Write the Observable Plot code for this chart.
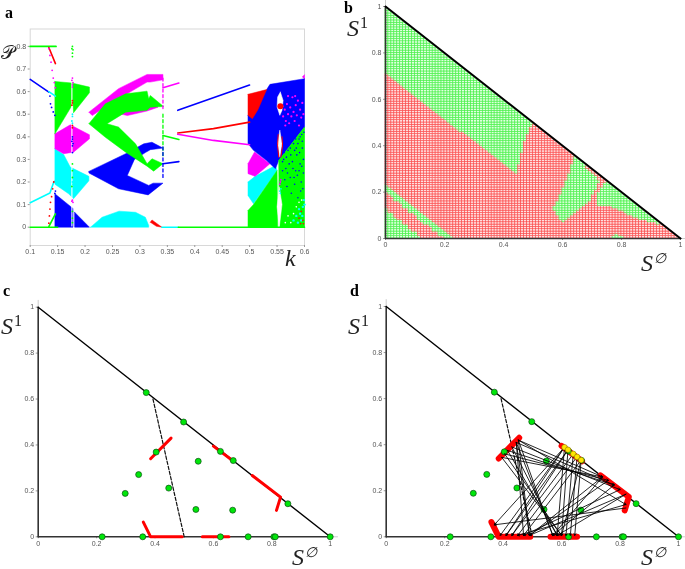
<!DOCTYPE html>
<html><head><meta charset="utf-8">
<script src="https://cdn.jsdelivr.net/npm/d3@7"></script>
<script src="https://cdn.jsdelivr.net/npm/@observablehq/plot@0.6"></script>
<style>
html,body{margin:0;padding:0;background:#fff;overflow:hidden}
#page{position:relative;width:685px;height:569px;overflow:hidden}
#page svg{position:absolute;background:transparent;filter:blur(.45px)}
#page svg.crisp{filter:blur(.2px)}
.lab{position:absolute;font-family:"Liberation Serif",serif;color:#222;line-height:1;white-space:nowrap;filter:blur(.3px)}
.pn{font-weight:bold;font-size:16px;color:#000}
.s{font-size:24px;font-style:italic}
.s sup{font-style:normal;font-size:16px;vertical-align:8px;line-height:0;margin-left:1px}
.s sup.e{font-style:italic;font-size:14px}
.s.p{font-size:19px;font-style:normal}
</style></head><body><div id="page"></div>
<script>
/* panel a: bifurcation bands as [k, P] outlines */
const greenBands=[
 [[.145,.645],[.176,.638],[.208,.62],[.208,.595],[.179,.506],[.178,.546],[.145,.413]],
 [[.207,.458],[.237,.546],[.274,.59],[.313,.602],[.316,.568],[.319,.583],[.343,.534],[.319,.531],[.313,.517],[.274,.509],[.24,.458],[.261,.443],[.292,.369],[.313,.281],[.322,.303],[.342,.281],[.325,.248],[.313,.27],[.274,.332],[.237,.398]],
 [[.497,.074],[.507,.1],[.55,.251],[.551,0],[.497,0]],
 [[.553,.295],[.6,.443],[.6,0],[.554,0]]];
const magentaBands=[
 [[.145,.413],[.173,.453],[.208,.409],[.208,.391],[.179,.332],[.161,.325],[.145,.347]],
 [[.207,.509],[.261,.613],[.313,.676],[.342,.676],[.342,.652],[.319,.642],[.313,.642],[.261,.568],[.213,.494]],
 [[.261,.503],[.277,.494],[.313,.514],[.333,.531],[.313,.56],[.27,.52]],
 [[.497,.281],[.509,.333],[.537,.281],[.51,.225],[.497,.237]],
 [[.6,.657],[.6,.675],[.596,.665]]];
const cyanBands=[
 [[.145,.347],[.161,.322],[.173,.266],[.207,.225],[.207,.205],[.179,.126],[.17,.148],[.145,.19]],
 [[.21,0],[.231,.044],[.262,.071],[.292,.066],[.31,.044],[.316,.008],[.316,0]],
 [[.497,.2],[.51,.225],[.547,.273],[.55,.251],[.507,.104],[.497,.14]]];
const blueBands=[
 [[.145,.148],[.178,.083],[.178,0],[.145,0]],
 [[.181,.066],[.208,0],[.181,0]],
 [[.207,.247],[.274,.325],[.307,.369],[.322,.376],[.342,.35],[.319,.343],[.31,.33],[.29,.3],[.277,.229],[.316,.185],[.324,.195],[.342,.195],[.315,.143],[.261,.17],[.207,.24]],
 [[.497,.495],[.531,.609],[.537,.632],[.6,.657],[.6,.443],[.553,.295],[.547,.259],[.531,.295],[.507,.34],[.497,.37]]];
const redBands=[
 [[.497,.588],[.531,.609],[.515,.52],[.505,.48],[.497,.495]],
 [[.319,.022],[.322,.032],[.34,0],[.33,.004]]];
const whiteHoles=[
 [[.556,.598],[.561,.561],[.559,.517],[.555,.495],[.55,.532],[.551,.576]],
 [[.555,.428],[.559,.37],[.555,.31],[.551,.37]],
 [[.554,.177],[.559,.1],[.554,0],[.55,.09]]];
const blueCurve=[[.1,.654],[.134,.598]], blueFar=[[.369,.517],[.4998,.629]], blueShort=[[.342,.281],[.371,.29]];
const cyanCurve=[[.1,.108],[.136,.151],[.143,.2],[.146,.205]], cyanShort=[[.134,.6],[.146,.58]];
const redCurve=[[.134,.795],[.146,.724]], redFar=[[.369,.417],[.434,.436],[.5,.465]];
const magentaFar=[[.369,.411],[.434,.384],[.5,.365]], magentaShort=[[.342,.617],[.371,.638]];
const greenShort=[[.342,.406],[.371,.388]], greenRise=[[.134,.003],[.146,.059]];
const greenTop=[[.1,.8],[.147,.8]], greenBase1=[[.1,0],[.15,0]], greenBase2=[[.37,0],[.6,0]], cyanBase=[[.34,0],[.37,0]];
const magentaDots=[[.134,.79],[.136,.76],[.138,.73],[.14,.694],[.142,.66],[.144,.64],[.146,.617],[.177,.66],[.176,.65],[.178,.64],[.177,.63],[.177,.62],[.177,.12],[.176,.115],[.178,.11],[.556,.2],[.557,.21],[.555,.19]];
const blueDots=[[.136,.58],[.137,.546],[.139,.53],[.142,.51],[.145,.495],[.177,.4],[.177,.39],[.176,.38],[.178,.37],[.177,.36],[.177,.33],[.146,.16],[.145,.15]];
const redDots=[[.134,.018],[.135,.05],[.136,.08],[.137,.11],[.139,.135],[.141,.17],[.143,.2],[.177,.56],[.177,.55],[.176,.54],[.177,.45],[.177,.44]];
const cyanDots=[[.177,.5],[.177,.49],[.176,.47],[.177,.46],[.177,.2],[.178,.19],[.557,.17],[.555,.16],[.556,.15]];
const greenDots=[[.177,.8],[.176,.79],[.178,.785],[.177,.77],[.177,.755],[.177,.28],[.177,.25],[.177,.22],[.176,.18],[.177,.07],[.177,.04],[.177,.02]];
const magentaDash=[.66,.515], greenDash=[.5,.31], blueDash=[.355,.22];
const slit=[[.176,.65],[.176,.005]];
const magentaSpeck=[[.561,.49],[.564,.52],[.566,.47],[.568,.545],[.57,.5],[.572,.46],[.574,.53],[.576,.49],[.578,.575],[.58,.51],[.582,.47],[.584,.54],[.586,.495],[.588,.56],[.59,.45],[.592,.52],[.594,.485],[.596,.55],[.598,.5],[.565,.45],[.56,.535],[.583,.58],[.57,.58]];
const blueSpeck=[[.562,.3],[.566,.26],[.57,.34],[.574,.22],[.578,.29],[.58,.37],[.584,.25],[.586,.32],[.59,.39],[.592,.28],[.594,.2],[.596,.35],[.598,.3],[.568,.18],[.576,.15],[.582,.19],[.588,.13],[.593,.16],[.598,.24],[.564,.21],[.572,.28],[.587,.23],[.591,.33],[.595,.41],[.56,.25],[.597,.17],[.585,.35],[.575,.32],[.563,.33],[.567,.31],[.571,.36],[.574,.35],[.577,.38],[.582,.34],[.584,.39],[.588,.37],[.592,.4],[.596,.38],[.599,.42],[.579,.26],[.581,.22],[.59,.25],[.595,.27],[.569,.24],[.56,.29]];
const cyanSpeck=[[.585,.05],[.59,.08],[.594,.03],[.597,.09],[.599,.12],[.592,.06],[.588,.02],[.596,.05],[.6,.1],[.58,.03]];
const redSpeck=[[.594,.07],[.597,.03],[.59,.04],[.598,.015],[.593,.015]];
const whiteSpeck=[[.575,.02],[.58,.06],[.585,.09],[.57,.05],[.59,.11],[.565,.02],[.595,.12]];
const xTicksA=[.1,.15,.2,.25,.3,.35,.4,.45,.5,.55,.6], yTicksA=[0,.1,.2,.3,.4,.5,.6,.7,.8];
const simplexTicks=[0,.2,.4,.6,.8,1];

/* panel b: basin outlines of the green region; everything else in the simplex is red */
const basinTop=[[0,1],[.5,.5],[.475,.42],[.463,.365],[.446,.279],[0,.713]];
const basinMid=[[.645,.352],[.729,.25],[.695,.164],[.605,.066],[.571,.124],[.616,.25]];
const basinRight=[[.751,.25],[.944,.056],[.842,.092],[.775,.135],[.723,.142],[.723,.2]];
const basinStrip=[[0,.235],[.235,0],[.2,0],[0,.2]];
const basinCorner=[[0,.13],[.13,0],[0,0]];
const basinTiny=[[.76,0],[.785,.02],[.815,0]];
const meshSize=100;

/* panels c, d */
const edgeHyp=[[0,1],[1,0]];
const dashBound=[[.393,.6],[.425,.42],[.5,0]];
const greenPts=[[.37,.628],[.498,.5],[.624,.372],[.668,.332],[.855,.144],[1,0],[.404,.369],[.548,.329],[.344,.271],[.298,.189],[.447,.212],[.54,.119],[.666,.116],[.219,0],[.358,0],[.624,0],[.719,0],[.807,0],[.812,0]];
const redSegs=[[[.385,.34],[.455,.43]],[[.6,.395],[.67,.328]],[[.733,.267],[.83,.173],[.816,.115]],[[.36,.064],[.385,0],[.493,0]],[[.562,0],[.653,0]]];
const yellowPts=[[.61,.389],[.622,.378],[.64,.36],[.653,.347],[.667,.333]];
const nodesA=[[.395,.345],[.405,.36],[.415,.375],[.43,.39],[.445,.41],[.452,.42]];
const nodesB=[[.39,.006],[.41,.006],[.43,.006],[.45,.006],[.47,.006],[.49,.006]];
const nodesC=[[.57,.006],[.585,.006],[.6,.006],[.615,.006],[.63,.006],[.645,.006]];
const nodesD=[[.74,.26],[.76,.245],[.78,.225],[.8,.205],[.82,.185]];
const nodesE=[[.825,.165],[.82,.14],[.82,.125]];
const nodeF=[[.37,.052]];
const edgesAtoC=[[5,0],[4,0],[3,1],[2,1],[1,2],[0,2]];
const edgesAtoB=[[5,5],[4,5],[4,4]];
const edgesAtoD=[[0,0],[1,1],[2,2],[3,3],[5,0],[4,2]];
const edgesAtoE=[[5,1]];
const edgesYtoB=[[0,0],[1,1],[2,2],[3,3],[4,4],[0,1],[1,2]];
const edgesYtoC=[[0,1],[1,2],[2,3],[3,4],[4,5],[4,2]];
const edgesDtoB=[[0,5],[1,5],[3,4],[4,5]];
const edgesDtoC=[[0,0],[2,0],[4,1]];
const edgesEtoF=[[2,0]];
const edgesEtoB=[[1,3]];

const GREEN="#00ff00",MAG="#ff00ff",CYAN="#00ffff",BLUE="#0000ff",RED="#ff0000";
const px=d=>d[0],py=d=>d[1];
const poly=(pts,c)=>Plot.line([...pts,pts[0]],{x:px,y:py,fill:c,stroke:c,strokeWidth:.5});
const path=(pts,c,w=1.6,extra={})=>Plot.line(pts,{x:px,y:py,stroke:c,strokeWidth:w,...extra});
const dots=(pts,c,r=.9)=>Plot.dot(pts,{x:px,y:py,r,fill:c,stroke:"none"});
const page=document.getElementById("page");
function mount(svg,left,top,cls){svg.style.left=left+"px";svg.style.top=top+"px";if(cls)svg.classList.add(cls);page.appendChild(svg);}
const axisStyle={tickSize:2,tickPadding:2,fontSize:7,stroke:"#999",color:"#555",fill:"#555",fontFamily:"Liberation Sans, sans-serif"};
const verticalDash=(k,[a,b],c)=>path([[k,a],[k,b]],c,1.3,{strokeDasharray:"3,2.5"});

/* panel a */
mount(Plot.plot({width:340,height:270,marginLeft:29.7,marginRight:36,marginTop:28.5,marginBottom:25,
 x:{domain:[.1,.6]},y:{domain:[-.081,.877]},
 marks:[
  Plot.frame({stroke:"#d8d8d8"}),
  Plot.axisX({ticks:xTicksA,tickFormat:String,label:null,...axisStyle}),
  Plot.axisY({ticks:yTicksA,tickFormat:String,label:null,...axisStyle}),
  ...cyanBands.map(b=>poly(b,CYAN)),...magentaBands.map(b=>poly(b,MAG)),
  ...blueBands.map(b=>poly(b,BLUE)),...redBands.map(b=>poly(b,RED)),...greenBands.map(b=>poly(b,GREEN)),
  ...whiteHoles.map(b=>poly(b,"#fff")),
  path(slit,"#fff",1.1),
  dots(magentaSpeck,MAG,1.1),dots(blueSpeck,BLUE,.8),dots(cyanSpeck,CYAN,1.2),dots(redSpeck,RED,.8),dots(whiteSpeck,"#fff",.8),
  Plot.dot([[.556,.535]],{x:px,y:py,r:3,fill:RED,stroke:"none"}),
  path([[.552,.41],[.551,.36],[.553,.31]],RED,1),path([[.559,.4],[.56,.36],[.557,.31]],RED,1),
  path(greenTop,GREEN,1.8),path(greenBase1,GREEN,1.6),path(cyanBase,CYAN,1.6),path(greenBase2,GREEN,1.6),
  path(blueCurve,BLUE),path(cyanCurve,CYAN),path(cyanShort,CYAN),path(redCurve,RED),path(greenRise,GREEN),
  path(blueFar,BLUE),path(redFar,RED),path(magentaFar,MAG),path(magentaShort,MAG),path(greenShort,GREEN),path(blueShort,BLUE),
  verticalDash(.342,magentaDash,MAG),verticalDash(.342,greenDash,GREEN),verticalDash(.342,blueDash,BLUE),
  dots(magentaDots,MAG),dots(blueDots,BLUE),dots(redDots,RED),dots(cyanDots,CYAN),dots(greenDots,GREEN)
 ]}),0,0);

/* panel b */
const basins=[basinTop,basinMid,basinRight,basinStrip,basinCorner,basinTiny];
const mesh=[];
for(let i=0;i<meshSize;i++)for(let j=0;j<meshSize-i-1;j++){
 const p=[(i+.5)/meshSize,(j+.5)/meshSize];
 mesh.push({x1:i/meshSize,x2:(i+1)/meshSize,y1:j/meshSize,y2:(j+1)/meshSize,g:basins.some(b=>d3.polygonContains(b,p))});
}
const simplexAxes=(w)=>[
  path([[1,0],[1.025,0]],"#ccc",1),path([[0,1],[0,1.03]],"#ccc",1),
  Plot.axisX({ticks:simplexTicks,tickFormat:String,label:null,...axisStyle}),
  Plot.axisY({ticks:simplexTicks,tickFormat:String,label:null,...axisStyle}),
  path([[0,0],[1,0]],"#333",w),path([[0,0],[0,1]],"#333",w)];
mount(Plot.plot({width:340,height:270,marginLeft:40,marginRight:5,marginTop:6,marginBottom:32,
 x:{domain:[0,1]},y:{domain:[0,1]},
 marks:[
  Plot.rect(mesh,{x1:"x1",x2:"x2",y1:"y1",y2:"y2",fill:d=>d.g?"#e0ffe0":"#ffe0e0",stroke:d=>d.g?"#44f044":"#fb4a4a",strokeWidth:.6}),
  ...simplexAxes(1.6),
  path(edgeHyp,"#000",2)
 ]}),345,0,"crisp");

/* panels c and d */
const greenMark=Plot.dot(greenPts,{x:px,y:py,r:3,fill:"#00e60a",stroke:"#0b4d12",strokeWidth:.7});
const dashMark=path(dashBound,"#111",1.2,{strokeDasharray:"3.5,1.8"});

mount(Plot.plot({width:340,height:284,marginLeft:37.7,marginRight:10.3,marginTop:21.7,marginBottom:32.7,
 x:{domain:[0,1]},y:{domain:[0,1]},
 marks:[
  ...simplexAxes(1.6),
  path(edgeHyp,"#000",1.4),dashMark,
  ...redSegs.map(s=>path(s,"#ff0000",3,{strokeLinejoin:"round",strokeLinecap:"round"})),
  greenMark
 ]}),0,285);

const link=(from,to,list)=>list.map(([i,j])=>({a:from[i],b:to[j]}));
const links=[
 ...link(nodesA,nodesC,edgesAtoC),...link(nodesA,nodesB,edgesAtoB),...link(nodesA,nodesD,edgesAtoD),...link(nodesA,nodesE,edgesAtoE),
 ...link(yellowPts,nodesB,edgesYtoB),...link(yellowPts,nodesC,edgesYtoC),
 ...link(nodesD,nodesB,edgesDtoB),...link(nodesD,nodesC,edgesDtoC),
 ...link(nodesE,nodeF,edgesEtoF),...link(nodesE,nodesB,edgesEtoB),
 {a:yellowPts[0],b:nodeF[0]}
];
mount(Plot.plot({width:345,height:284,marginLeft:45.7,marginRight:7,marginTop:21,marginBottom:32.7,
 x:{domain:[0,1]},y:{domain:[0,1]},
 marks:[
  ...simplexAxes(1.6),
  path(edgeHyp,"#000",1.4),dashMark,
  ...redSegs.map(s=>path(s,"#ff0000",6,{strokeLinejoin:"round",strokeLinecap:"round"})),
  greenMark,
  Plot.arrow(links,{x1:d=>d.a[0],y1:d=>d.a[1],x2:d=>d.b[0],y2:d=>d.b[1],stroke:"#000",strokeWidth:.85,headLength:3.5,bend:0}),
  Plot.dot(yellowPts,{x:px,y:py,r:2.8,fill:"#ffe600",stroke:"#7a6a00",strokeWidth:.5})
 ]}),340,285);

/* text */
const labels=[
 ["pn","a",5,5],["pn","b",344,0],["pn","c",3,283],["pn","d",350,283],
 ["s p","𝒫",1,43],["s","k",285,246],
 ["s","S<sup>1</sup>",347,16],["s","S<sup class=e>∅</sup>",641,251],
 ["s","S<sup>1</sup>",1,314],["s","S<sup class=e>∅</sup>",292,545],
 ["s","S<sup>1</sup>",348,314],["s","S<sup class=e>∅</sup>",641,545]];
for(const [c,t,l,tp] of labels){const e=document.createElement("div");e.className="lab "+c;e.innerHTML=t;e.style.left=l+"px";e.style.top=tp+"px";page.appendChild(e);}
</script></body></html>
